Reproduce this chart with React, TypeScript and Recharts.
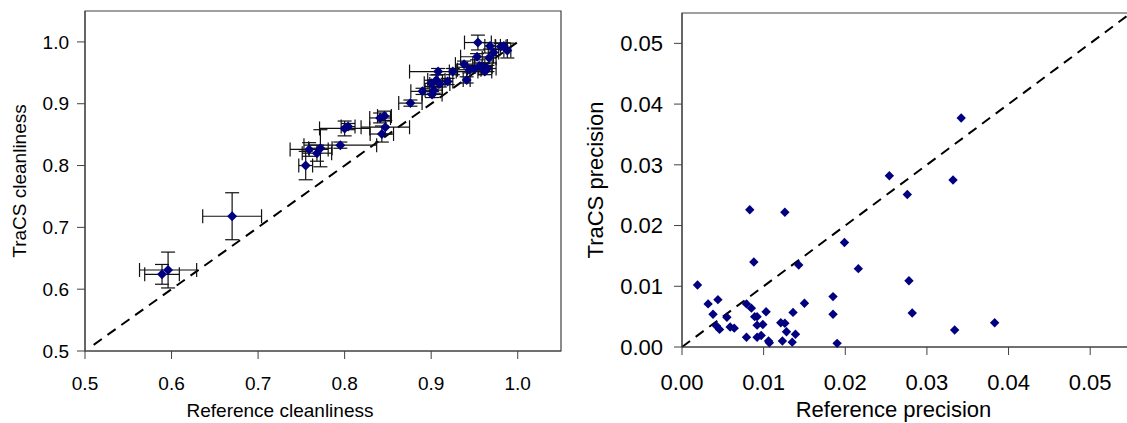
import React from "react";
import {
  ScatterChart,
  Scatter,
  XAxis,
  YAxis,
  ErrorBar,
  ReferenceLine,
  ReferenceArea,
} from "recharts";

// left panel: cleanliness, with x/y error bars
const refClean = [0.589, 0.596, 0.670, 0.755, 0.759, 0.768, 0.772, 0.795, 0.800, 0.804, 0.841, 0.846, 0.847, 0.843, 0.876, 0.890, 0.901, 0.908, 0.900, 0.906, 0.910, 0.919, 0.925, 0.903, 0.938, 0.941, 0.944, 0.950, 0.953, 0.954, 0.962, 0.965, 0.968, 0.967, 0.972, 0.9805, 0.984, 0.988, 0.9605, 0.956];
const tracsClean = [0.624, 0.631, 0.718, 0.800, 0.826, 0.820, 0.828, 0.833, 0.860, 0.863, 0.877, 0.880, 0.862, 0.851, 0.901, 0.920, 0.915, 0.952, 0.933, 0.9385, 0.932, 0.936, 0.952, 0.922, 0.964, 0.9385, 0.955, 0.957, 0.976, 0.999, 0.952, 0.957, 0.9935, 0.974, 0.983, 0.9925, 0.9935, 0.986, 0.960, 0.961];
const refCleanErr = [0.020, 0.033, 0.034, 0.008, 0.022, 0.017, 0.0135, 0.042, 0.029, 0.008, 0.012, 0.008, 0.028, 0.0135, 0.0135, 0.0135, 0.0116, 0.033, 0.008, 0.010, 0.0116, 0.006, 0.004, 0.010, 0.010, 0.004, 0.0135, 0.008, 0.019, 0.0155, 0.008, 0.010, 0.006, 0.008, 0.006, 0.006, 0.004, 0.004, 0.010, 0.006];
const tracsCleanErr = [0.016, 0.029, 0.038, 0.023, 0.011, 0.013, 0.030, 0.005, 0.012, 0.005, 0.008, 0.008, 0.011, 0.013, 0.005, 0.005, 0.005, 0.005, 0.005, 0.008, 0.005, 0.005, 0.005, 0.005, 0.005, 0.005, 0.005, 0.005, 0.005, 0.012, 0.005, 0.005, 0.005, 0.008, 0.005, 0.005, 0.005, 0.012, 0.005, 0.005];

// right panel: precision
const refPrec = [0.0019, 0.0032, 0.0044, 0.0038, 0.0042, 0.0046, 0.0055, 0.0059, 0.0064, 0.0079, 0.0085, 0.0083, 0.0088, 0.0089, 0.0092, 0.0092, 0.0099, 0.0079, 0.0092, 0.0097, 0.0103, 0.0106, 0.0107, 0.0121, 0.0126, 0.0128, 0.0123, 0.0126, 0.0136, 0.0139, 0.0135, 0.0143, 0.0150, 0.0185, 0.0185, 0.0190, 0.0199, 0.0216, 0.0254, 0.0276, 0.0278, 0.0282, 0.0332, 0.0342, 0.0334, 0.0383];
const tracsPrec = [0.0102, 0.0071, 0.0078, 0.0054, 0.0035, 0.0029, 0.0049, 0.0033, 0.0031, 0.0071, 0.0064, 0.0226, 0.0140, 0.0050, 0.0050, 0.0036, 0.0037, 0.0016, 0.0016, 0.0019, 0.0058, 0.0010, 0.0007, 0.0040, 0.0039, 0.0025, 0.0010, 0.0222, 0.0057, 0.0021, 0.0008, 0.0135, 0.0072, 0.0083, 0.0054, 0.0006, 0.0172, 0.0129, 0.0282, 0.0251, 0.0109, 0.0056, 0.0275, 0.0377, 0.0028, 0.0040];

const cleanTicks = [0.5, 0.6, 0.7, 0.8, 0.9, 1.0];
const precTicks = [0, 0.01, 0.02, 0.03, 0.04, 0.05];

const cleanData = refClean.map((x, i) => ({
  x,
  y: tracsClean[i],
  ex: refCleanErr[i],
  ey: tracsCleanErr[i],
}));
const precData = refPrec.map((x, i) => ({ x, y: tracsPrec[i] }));

const NAVY = "#000080";
const AXIS = "#404040";

const diamond = (r: number) => (p: any) => (
  <path
    d={`M${p.cx},${p.cy - r}L${p.cx + r},${p.cy}L${p.cx},${p.cy + r}L${p.cx - r},${p.cy}Z`}
    fill={NAVY}
  />
);

function CleanlinessChart() {
  const font = 19;
  return (
    <ScatterChart width={580} height={423} margin={{ top: 11, right: 19, bottom: 0, left: 0 }}>
      <ReferenceArea x1={0.5} x2={1.05} y1={0.5} y2={1.05} fill="none" stroke={AXIS} strokeWidth={1.2} />
      <XAxis
        type="number"
        dataKey="x"
        domain={[0.5, 1.05]}
        ticks={cleanTicks}
        tickFormatter={(v) => v.toFixed(1)}
        height={72}
        tickSize={8}
        tickMargin={18}
        stroke={AXIS}
        tick={{ fill: "#000", fontSize: font }}
        label={{ value: "Reference cleanliness", position: "insideBottom", offset: 6, dx: -43, fill: "#000", fontSize: font }}
      />
      <YAxis
        type="number"
        dataKey="y"
        domain={[0.5, 1.05]}
        ticks={cleanTicks}
        tickFormatter={(v) => v.toFixed(1)}
        width={85}
        tickSize={8}
        tickMargin={8}
        stroke={AXIS}
        tick={{ fill: "#000", fontSize: font }}
        label={{ value: "TraCS cleanliness", angle: -90, position: "insideLeft", offset: 19, fill: "#000", fontSize: font, style: { textAnchor: "middle" } }}
      />
      <ReferenceLine
        segment={[{ x: 0.51, y: 0.51 }, { x: 1.0, y: 1.0 }]}
        stroke="#000"
        strokeWidth={2}
        strokeDasharray="10 7"
      />
      <Scatter data={cleanData} shape={diamond(5)} isAnimationActive={false}>
        <ErrorBar dataKey="ex" direction="x" width={7} stroke="#111" strokeWidth={1.2} isAnimationActive={false} />
        <ErrorBar dataKey="ey" direction="y" width={7} stroke="#111" strokeWidth={1.2} isAnimationActive={false} />
      </Scatter>
    </ScatterChart>
  );
}

function PrecisionChart() {
  const font = 22;
  return (
    <ScatterChart width={561} height={423} margin={{ top: 13, right: 0, bottom: 0, left: 0 }}>
      <ReferenceArea x1={0} x2={0.055} y1={0} y2={0.055} fill="none" stroke={AXIS} strokeWidth={1.2} />
      <XAxis
        type="number"
        dataKey="x"
        domain={[0, 0.055]}
        ticks={precTicks}
        tickFormatter={(v) => v.toFixed(2)}
        height={76}
        tickSize={8}
        tickMargin={19}
        stroke={AXIS}
        tick={{ fill: "#000", fontSize: font }}
        label={{ value: "Reference precision", position: "insideBottom", offset: 6, dx: -13, fill: "#000", fontSize: font }}
      />
      <YAxis
        type="number"
        dataKey="y"
        domain={[0, 0.055]}
        ticks={precTicks}
        tickFormatter={(v) => v.toFixed(2)}
        width={112}
        tickSize={8}
        tickMargin={11}
        stroke={AXIS}
        tick={{ fill: "#000", fontSize: font }}
        label={{ value: "TraCS precision", angle: -90, position: "insideLeft", offset: 25, fill: "#000", fontSize: font, style: { textAnchor: "middle" } }}
      />
      <ReferenceLine
        segment={[{ x: 0, y: 0 }, { x: 0.055, y: 0.055 }]}
        stroke="#000"
        strokeWidth={2}
        strokeDasharray="10 7"
      />
      <Scatter data={precData} shape={diamond(4.7)} isAnimationActive={false} />
    </ScatterChart>
  );
}

export default function App() {
  return (
    <div
      style={{
        position: "absolute",
        left: 0,
        top: 0,
        width: 1127,
        height: 423,
        overflow: "hidden",
        background: "#fff",
        fontFamily: "'Liberation Sans', Arial, sans-serif",
      }}
    >
      <div style={{ position: "absolute", left: 0, top: 0 }}>
        <CleanlinessChart />
      </div>
      <div style={{ position: "absolute", left: 570, top: 0 }}>
        <PrecisionChart />
      </div>
    </div>
  );
}
